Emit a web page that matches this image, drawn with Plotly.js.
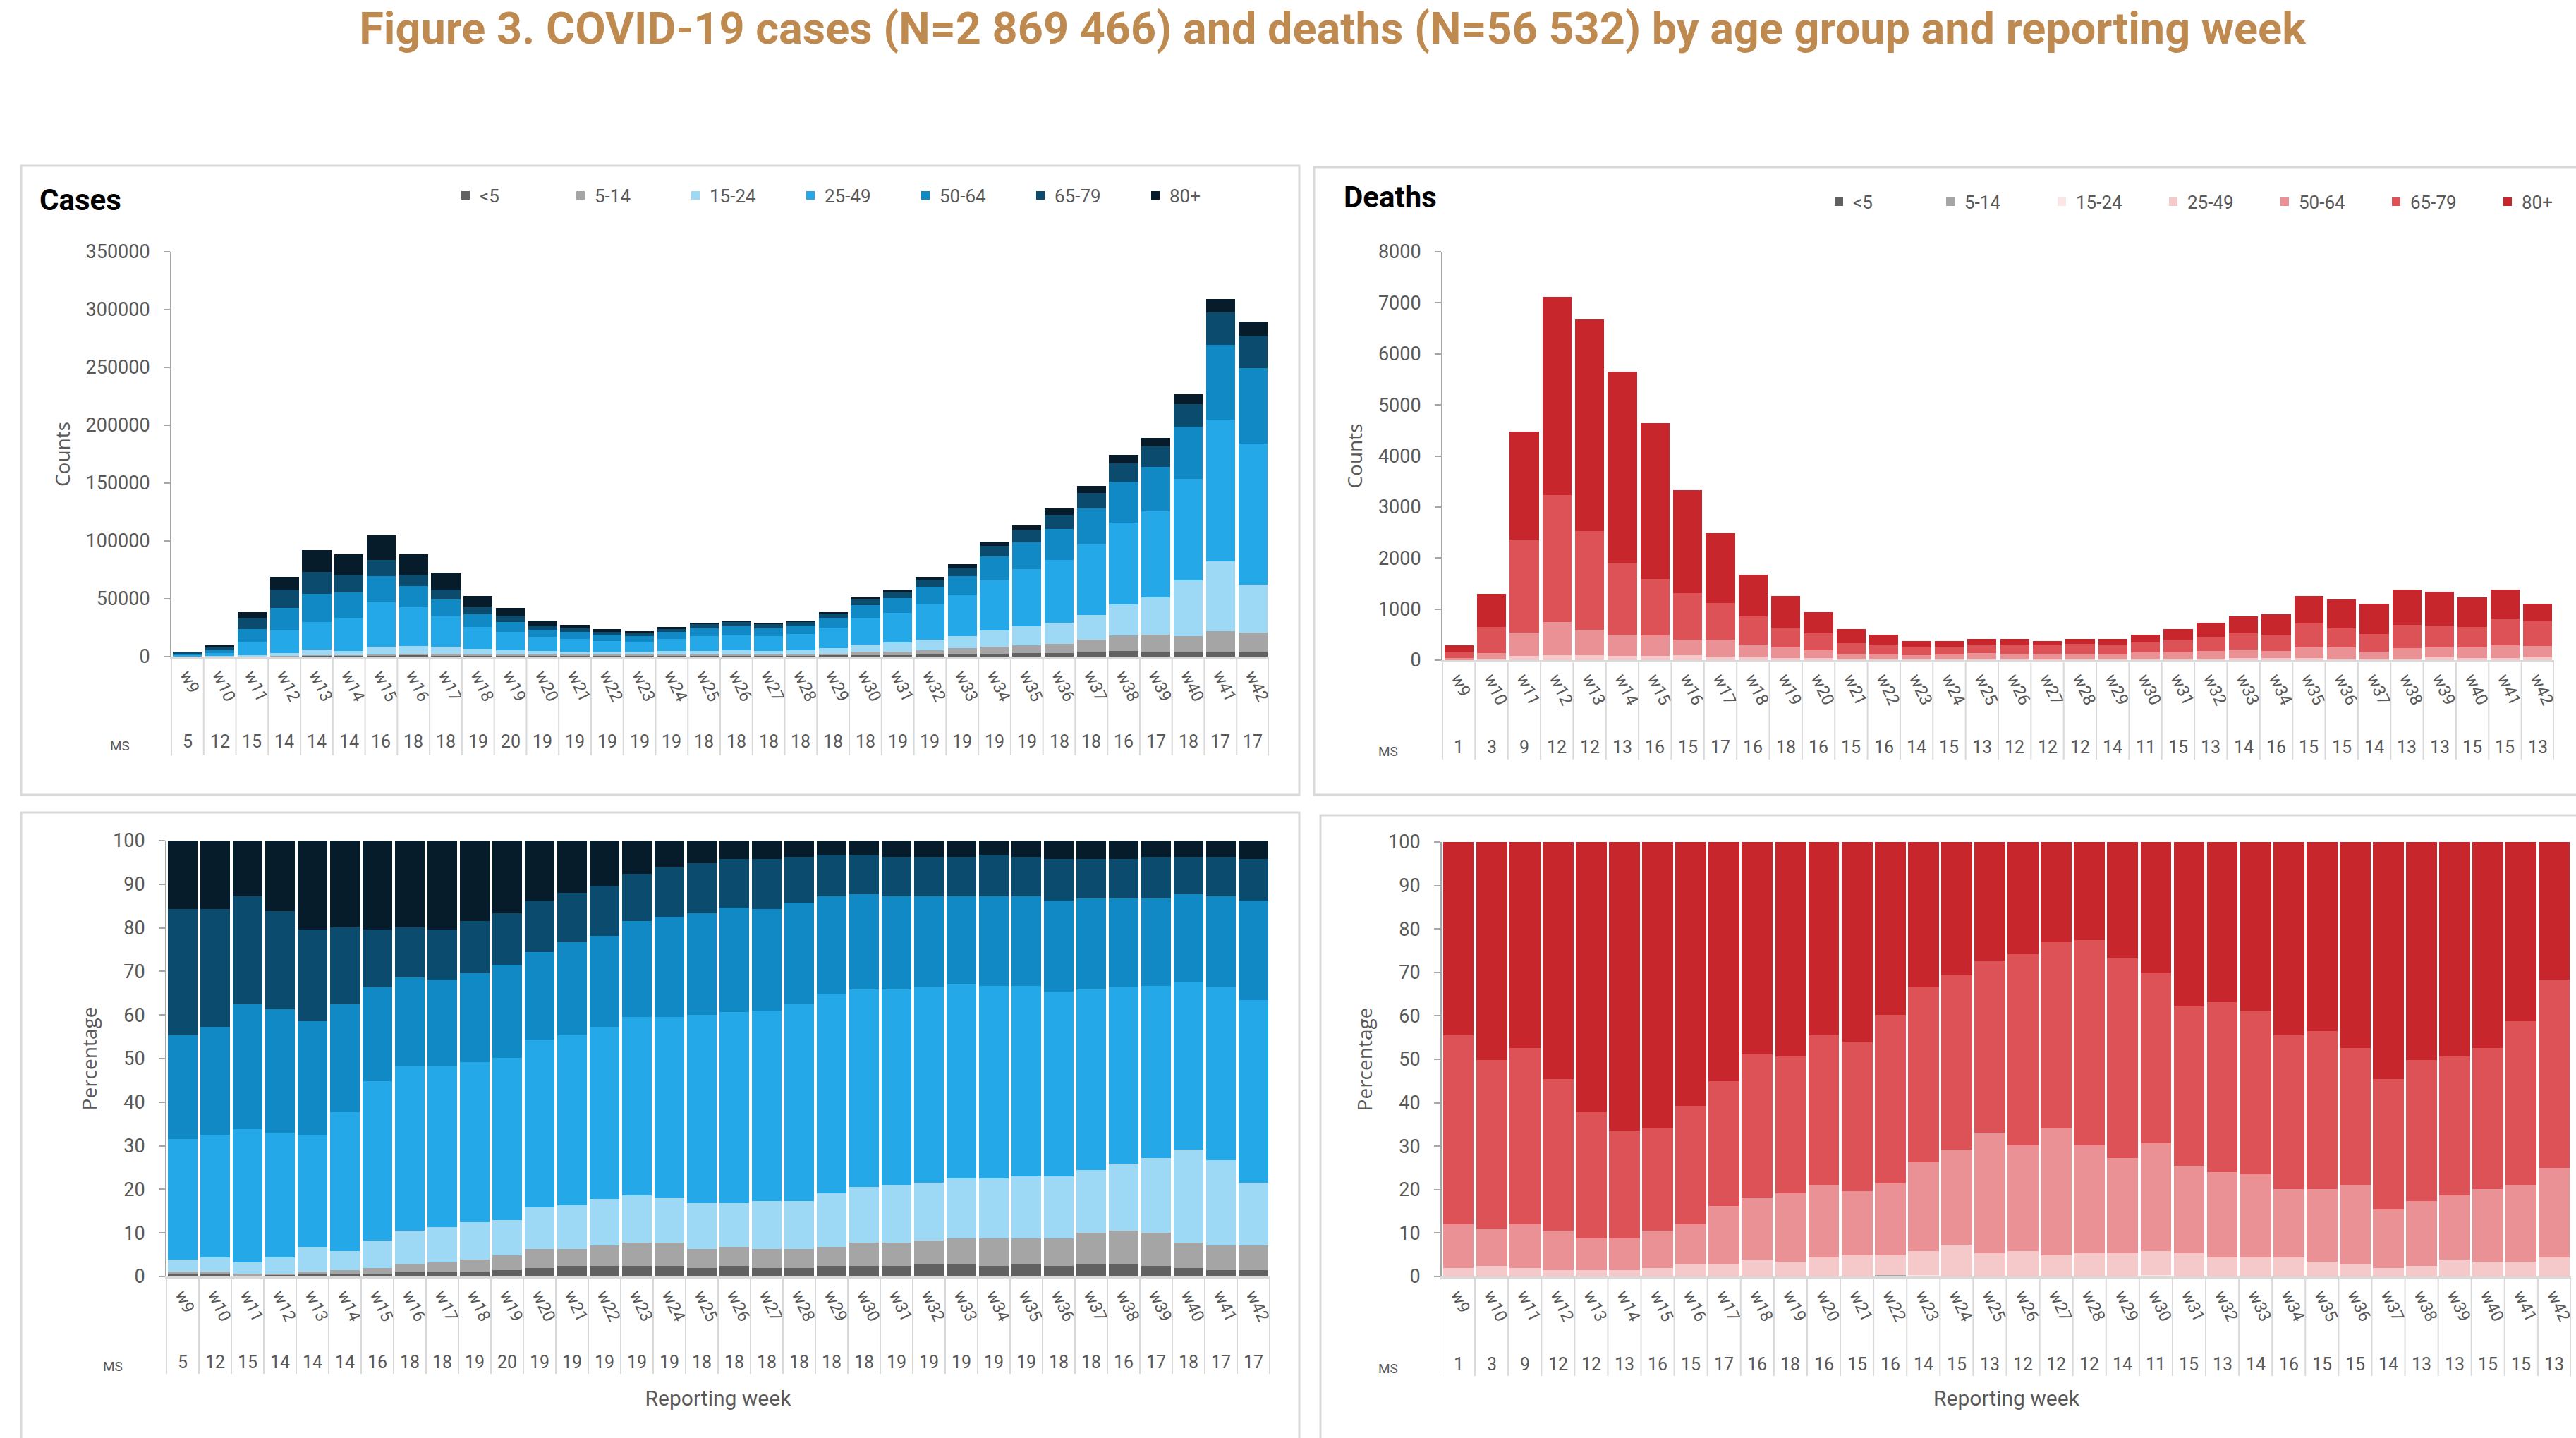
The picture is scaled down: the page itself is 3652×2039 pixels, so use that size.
<!DOCTYPE html>
<html>
<head>
<meta charset="utf-8">
<script src="https://cdn.plot.ly/plotly-3.0.1.min.js"></script>
<style>html,body{margin:0;padding:0;background:#fff;overflow:hidden;}#chart{width:3652px;height:2039px;}</style>
</head>
<body>
<div id="chart"></div>
<script>
// ---------------- DATA ----------------
const weeks = ['w9','w10','w11','w12','w13','w14','w15','w16','w17','w18','w19','w20','w21','w22','w23','w24','w25','w26','w27','w28','w29','w30','w31','w32','w33','w34','w35','w36','w37','w38','w39','w40','w41','w42'];
const ageGroups = ['<5','5-14','15-24','25-49','50-64','65-79','80+'];

// Number of member states reporting (MS row)
const msCases  = [5,12,15,14,14,14,16,18,18,19,20,19,19,19,19,19,18,18,18,18,18,18,19,19,19,19,19,18,18,16,17,18,17,17];
const msDeaths = [1,3,9,12,12,13,16,15,17,16,18,16,15,16,14,15,13,12,12,12,14,11,15,13,14,16,15,15,14,13,13,15,15,13];

// Weekly totals (counts)
const casesTotal  = [4300,9900,38300,69000,92100,88500,104900,88500,72600,52600,42200,31100,27500,23900,21900,25600,29400,31100,29200,31100,38300,51100,57900,69000,79800,99300,113300,128000,147600,174300,189000,226900,309100,289600];
const deathsTotal = [295,1300,4480,7120,6677,5655,4644,3333,2492,1672,1262,940,612,497,377,377,415,415,377,415,415,497,612,732,858,902,1262,1191,1109,1382,1344,1229,1382,1109];

// Cases: share (%) by age group
const casesPctU5    = [0.6,0.6,0.2,0.4,0.6,0.6,0.6,1.1,1.1,1.1,1.4,1.9,2.4,2.4,2.4,2.4,1.9,2.4,1.9,1.9,2.4,2.4,2.4,2.9,2.9,2.4,2.9,2.4,2.9,2.9,2.4,1.9,1.4,1.4];
const casesPct5_14  = [0.6,0.6,0.4,0.2,0.6,0.8,1.3,1.8,2.2,2.8,3.4,4.4,3.9,4.8,5.4,5.4,4.4,4.4,4.4,4.4,4.4,5.4,5.4,5.3,5.9,6.4,5.9,6.4,7.1,7.6,7.6,5.9,5.8,5.8];
const casesPct15_24 = [2.7,3.2,2.7,3.8,5.6,4.4,6.3,7.6,8.1,8.5,8.1,9.5,10.0,10.6,10.8,10.3,10.5,10.0,11.0,11.0,12.3,12.8,13.2,13.3,13.7,13.7,14.2,14.2,14.4,15.4,17.2,21.3,19.5,14.3];
const casesPct25_49 = [27.6,28.1,30.6,28.6,25.7,31.9,36.6,37.7,36.8,36.8,37.2,38.6,39.0,39.5,40.9,41.4,43.3,43.8,43.7,45.2,45.8,45.2,44.8,44.8,44.6,44.1,43.6,42.3,41.4,40.4,39.4,38.5,39.6,42.0];
const casesPct50_64 = [23.8,24.8,28.6,28.4,26.1,24.8,21.5,20.4,19.9,20.4,21.4,20.0,21.4,20.8,22.0,23.0,23.2,24.1,23.3,23.3,22.3,21.9,21.4,20.9,20.1,20.6,20.6,20.9,20.9,20.4,20.1,20.1,20.9,22.7];
const casesPct65_79 = [29.0,27.0,24.7,22.4,21.0,17.6,13.3,11.5,11.5,11.9,11.8,11.8,11.4,11.5,10.9,11.3,11.5,11.1,11.5,10.5,9.5,9.0,9.1,9.1,9.1,9.5,9.1,9.6,9.1,9.1,9.6,8.6,9.1,9.6];
const casesPct80    = [15.7,15.7,12.8,16.2,20.4,19.9,20.4,19.9,20.4,18.5,16.7,13.8,11.9,10.4,7.6,6.2,5.2,4.2,4.2,3.7,3.3,3.3,3.7,3.7,3.7,3.3,3.7,4.2,4.2,4.2,3.7,3.7,3.7,4.2];

// Deaths: share (%) by age group
const deathsPctU5    = [0,0,0,0,0,0,0,0,0,0,0,0,0,0,0,0,0,0,0,0,0,0,0,0,0,0,0,0,0,0,0,0,0,0];
const deathsPct5_14  = [0,0,0,0,0,0,0,0,0,0,0,0,0,0.4,0,0,0,0,0,0,0,0,0,0,0,0,0,0,0,0,0,0,0,0];
const deathsPct15_24 = [0,0,0,0,0,0,0,0,0,0,0,0,0,0,0.4,0,0,0,0,0,0,0.4,0,0,0,0,0,0,0,0,0,0,0,0];
const deathsPct25_49 = [1.9,2.4,1.9,1.4,1.4,1.4,1.9,2.9,2.9,3.9,3.4,4.4,4.9,4.5,5.4,7.3,5.3,5.8,4.9,5.3,5.3,5.4,5.3,4.4,4.4,4.4,3.4,2.9,1.9,2.4,3.9,3.4,3.4,4.4];
const deathsPct50_64 = [10.1,8.6,10.1,9.1,7.4,7.4,8.6,9.1,13.4,14.3,15.8,16.7,14.7,16.6,20.5,21.9,27.8,24.4,29.2,24.9,22.0,24.9,20.2,19.7,19.1,15.7,16.7,18.2,13.5,15.0,14.8,16.7,17.7,20.6];
const deathsPct65_79 = [43.5,38.9,40.6,35.0,29.0,24.8,23.6,27.3,28.7,33.0,31.5,34.4,34.5,38.8,40.3,40.2,39.7,44.0,42.9,47.3,46.0,39.1,36.7,39.1,37.7,35.4,36.4,31.5,30.1,32.5,32.0,32.5,37.7,43.4];
const deathsPct80    = [44.5,50.1,47.4,54.5,62.2,66.4,65.9,60.7,55.0,48.8,49.3,44.5,45.9,39.7,33.4,30.6,27.2,25.8,23.0,22.5,26.7,30.2,37.8,36.8,38.8,44.5,43.5,47.4,54.5,50.1,49.3,47.4,41.2,31.6];

// ---------------- STYLE ----------------
const casesColors  = ['#616161','#A5A5A5','#9DD8F5','#25A8E8','#1189C5','#0B4B6E','#061C2A'];
const deathsColors = ['#616161','#A5A5A5','#FBE5E5','#F5C8C9','#E99194','#DC5257','#C7262C'];

const W = 3652, H = 2039;
const fx = p => p / W;
const fy = p => 1 - p / H;

const casesPct  = [casesPctU5, casesPct5_14, casesPct15_24, casesPct25_49, casesPct50_64, casesPct65_79, casesPct80];
const deathsPct = [deathsPctU5, deathsPct5_14, deathsPct15_24, deathsPct25_49, deathsPct50_64, deathsPct65_79, deathsPct80];

const traces = [];
ageGroups.forEach((g, k) => {
  traces.push({type:'bar', name:g, x:weeks, y:casesTotal.map((t,i)=>t*casesPct[k][i]/100),
    xaxis:'x', yaxis:'y', legend:'legend', width:0.9, marker:{color:casesColors[k]}, showlegend:true});
});
ageGroups.forEach((g, k) => {
  traces.push({type:'bar', name:g, x:weeks, y:deathsTotal.map((t,i)=>t*deathsPct[k][i]/100),
    xaxis:'x2', yaxis:'y2', legend:'legend2', width:0.89, marker:{color:deathsColors[k]}, showlegend:true});
});
ageGroups.forEach((g, k) => {
  traces.push({type:'bar', name:g, x:weeks, y:casesPct[k],
    xaxis:'x3', yaxis:'y3', width:0.9, marker:{color:casesColors[k]}, showlegend:false});
});
ageGroups.forEach((g, k) => {
  traces.push({type:'bar', name:g, x:weeks, y:deathsPct[k],
    xaxis:'x4', yaxis:'y4', width:0.93, marker:{color:deathsColors[k]}, showlegend:false});
});

const tickGray = '#595959';
function xAx(domain, anchor, title){
  const a = {domain:domain, anchor:anchor, type:'category', range:[-0.5, weeks.length-0.5],
    showline:true, linecolor:'#D9D9D9', linewidth:3, ticks:'', tickangle:65,
    tickfont:{family:'Roboto', size:24, color:tickGray}, showgrid:false, zeroline:false, fixedrange:true};
  if (title) a.title = {text:title, font:{family:'Roboto', size:30, color:tickGray}, standoff:95};
  return a;
}
function yAx(domain, anchor, range, dtick, title){
  return {domain:domain, anchor:anchor, range:range, dtick:dtick, tickformat:'d',
    showline:true, linecolor:'#A6A6A6', linewidth:2, ticks:'outside', ticklen:9, tickwidth:2, tickcolor:'#A6A6A6',
    ticklabelstandoff:14, showgrid:false, zeroline:false, fixedrange:true,
    tickfont:{family:'Roboto', size:27, color:tickGray},
    title:{text:title, font:{family:'Open Sans', size:28, color:tickGray}, standoff:14}};
}

// panel geometry (pixels)
const panels = [
  {xa:'x',  axisY:931,  sepEnd:1071, msY:1051, msLabelX:170},
  {xa:'x2', axisY:936,  sepEnd:1077, msY:1059, msLabelX:1968},
  {xa:'x3', axisY:1810, sepEnd:1948, msY:1931, msLabelX:160},
  {xa:'x4', axisY:1810, sepEnd:1951, msY:1934, msLabelX:1968}
];

const shapes = [];
// panel borders
[[30,235,1842,1127],[1863,237,3662,1127],[30,1152,1842,2045],[1872,1156,3662,2045]].forEach(b => {
  shapes.push({type:'rect', xref:'paper', yref:'paper', x0:fx(b[0]), x1:fx(b[2]), y0:fy(b[1]), y1:fy(b[3]),
    line:{color:'#D9D9D9', width:3}, fillcolor:'rgba(0,0,0,0)', layer:'below'});
});
// category separators below each x axis
panels.forEach(p => {
  for (let k = 0; k <= weeks.length; k++) {
    shapes.push({type:'line', xref:p.xa, yref:'paper', x0:k-0.5, x1:k-0.5, y0:fy(p.axisY), y1:fy(p.sepEnd),
      line:{color:'#D9D9D9', width:2}});
  }
});

const annotations = [];
const msRows = [msCases, msDeaths, msCases, msDeaths];
panels.forEach((p, j) => {
  msRows[j].forEach((v, i) => {
    annotations.push({xref:p.xa, yref:'paper', x:weeks[i], y:fy(p.msY), text:String(v), showarrow:false,
      xanchor:'center', yanchor:'middle', font:{family:'Roboto', size:25, color:tickGray}});
  });
  annotations.push({xref:'paper', yref:'paper', x:fx(p.msLabelX), y:fy(p.msY+6), text:'MS', showarrow:false,
    xanchor:'center', yanchor:'middle', font:{family:'Roboto', size:19, color:tickGray}});
});
annotations.push({xref:'paper', yref:'paper', x:fx(54), y:fy(284), text:'<b>Cases</b>', showarrow:false,
  xanchor:'left', yanchor:'middle', font:{family:'Roboto', size:42, color:'#000000'}});
annotations.push({xref:'paper', yref:'paper', x:fx(1903), y:fy(280), text:'<b>Deaths</b>', showarrow:false,
  xanchor:'left', yanchor:'middle', font:{family:'Roboto', size:42, color:'#000000'}});

const layout = {
  width:W, height:H, margin:{l:0, r:0, t:0, b:0, autoexpand:false},
  paper_bgcolor:'#FFFFFF', plot_bgcolor:'rgba(0,0,0,0)',
  barmode:'stack', bargap:0.1,
  font:{family:'Roboto, sans-serif', color:tickGray},
  title:{text:'<b>Figure 3. COVID-19 cases (N=2 869 466) and deaths (N=56 532) by age group and reporting week</b>',
    font:{family:'Roboto', size:63, color:'#BF8A50'}, x:1889/W, xanchor:'center', xref:'container',
    y:fy(40), yanchor:'middle', yref:'container'},
  xaxis:  xAx([fx(243),  fx(1799)], 'y'),
  yaxis:  yAx([fy(931),  fy(357)],  'x',  [0,350000], 50000, 'Counts'),
  xaxis2: xAx([fx(2045), fx(3621)], 'y2'),
  yaxis2: yAx([fy(936),  fy(357)],  'x2', [0,8000], 1000, 'Counts'),
  xaxis3: xAx([fx(236),  fx(1800)], 'y3', 'Reporting week'),
  yaxis3: yAx([fy(1810), fy(1192)], 'x3', [0,100], 10, 'Percentage'),
  xaxis4: xAx([fx(2044), fx(3645)], 'y4', 'Reporting week'),
  yaxis4: yAx([fy(1810), fy(1194)], 'x4', [0,100], 10, 'Percentage'),
  legend: {orientation:'h', x:fx(640), y:fy(277), xanchor:'left', yanchor:'middle', traceorder:'normal',
    entrywidth:118, entrywidthmode:'pixels', bgcolor:'rgba(0,0,0,0)',
    font:{family:'Roboto', size:26, color:tickGray}},
  legend2: {orientation:'h', x:fx(2587), y:fy(286), xanchor:'left', yanchor:'middle', traceorder:'normal',
    entrywidth:113, entrywidthmode:'pixels', bgcolor:'rgba(0,0,0,0)',
    font:{family:'Roboto', size:26, color:tickGray}},
  shapes:shapes,
  annotations:annotations,
  hovermode:false
};

Plotly.newPlot('chart', traces, layout, {staticPlot:true, displayModeBar:false});
</script>
</body>
</html>
